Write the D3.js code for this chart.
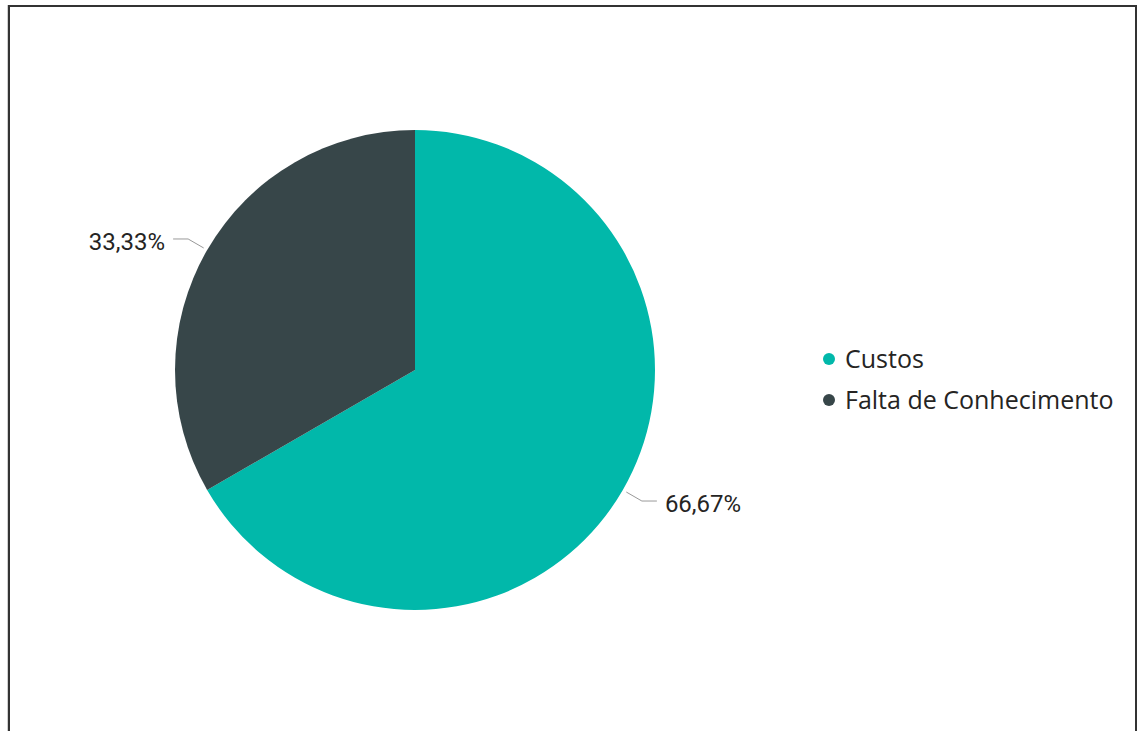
<!DOCTYPE html>
<html>
<head>
<meta charset="utf-8">
<script src="https://cdn.jsdelivr.net/npm/d3@7"></script>
<style>
  html, body { margin: 0; padding: 0; background: #fff; }
  svg { display: block; }
</style>
</head>
<body>
<svg id="chart" width="1140" height="731"></svg>
<script>
// Motivos: share of responses
const categories = ["Custos", "Falta de Conhecimento"];
const values = [66.67, 33.33];
const colors = ["#01B8AA", "#374649"];

const svg = d3.select("#chart");
const W = 1140, H = 731;

// outer frame
svg.append("rect").attr("x", 7).attr("y", 5).attr("width", 2).attr("height", H)
  .attr("fill", "#d0d0d0");
svg.append("path")
  .attr("d", `M9,${H + 2} V6 H1136 V${H + 2}`)
  .attr("fill", "none").attr("stroke", "#333").attr("stroke-width", 2);

const cx = 415, cy = 370, r = 240;
const g = svg.append("g").attr("transform", `translate(${cx},${cy})`);

const pie = d3.pie().sort(null).value(d => d.v);
const data = categories.map((c, i) => ({ c, v: values[i], color: colors[i] }));
const arcs = pie(data);
const arc = d3.arc().innerRadius(0).outerRadius(r);

g.selectAll("path.slice").data(arcs).enter().append("path")
  .attr("class", "slice")
  .attr("d", arc)
  .attr("fill", d => d.data.color);

// data labels with leader lines
const fmt = v => v.toFixed(2).replace(".", ",") + "%";
arcs.forEach(d => {
  const mid = (d.startAngle + d.endAngle) / 2;
  const sx = Math.sin(mid), sy = -Math.cos(mid);
  const p0 = [sx * (r + 4), sy * (r + 4)];
  const p1 = [sx * (r + 22), sy * (r + 22)];
  const right = sx > 0;
  const p2 = [p1[0] + (right ? 15 : -15), p1[1]];
  g.append("polyline")
    .attr("points", [p0, p1, p2].map(p => p.join(",")).join(" "))
    .attr("fill", "none").attr("stroke", "#999").attr("stroke-width", 1);
  g.append("text")
    .attr("x", p2[0] + (right ? 8 : -8))
    .attr("y", p2[1] + 3)
    .attr("dy", "0.35em")
    .attr("text-anchor", right ? "start" : "end")
    .attr("font-family", "Roboto, 'DejaVu Sans', sans-serif")
    .attr("font-size", 24)
    .attr("fill", "#252423")
    .text(fmt(d.data.v));
});

// legend
const lg = svg.append("g").attr("transform", "translate(829,359)");
const items = lg.selectAll("g").data(data).enter().append("g")
  .attr("transform", (d, i) => `translate(0,${i * 41})`);
items.append("circle").attr("r", 6).attr("fill", d => d.color);
items.append("text")
  .attr("x", 16).attr("dy", "0.35em")
  .attr("font-family", "'Open Sans', 'Noto Sans', sans-serif")
  .attr("font-size", 25)
  .attr("fill", "#252423")
  .text(d => d.c);
</script>
</body>
</html>
